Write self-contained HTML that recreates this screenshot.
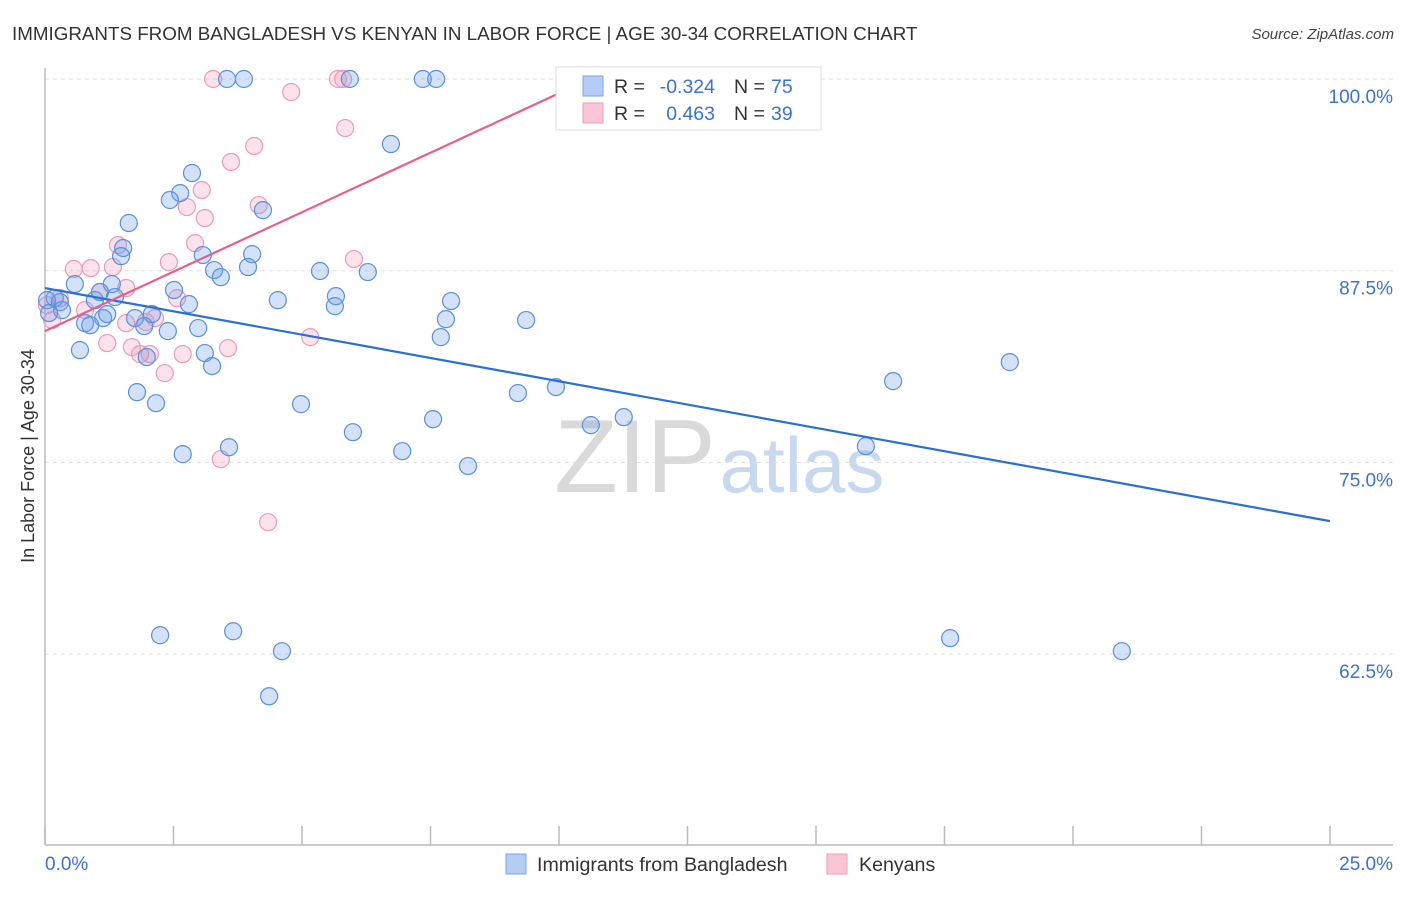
<!DOCTYPE html>
<html><head><meta charset="utf-8">
<style>
body{margin:0;background:#fff;font-family:"Liberation Sans",sans-serif;}
svg text{font-family:"Liberation Sans",sans-serif;}
</style></head>
<body>
<svg id="chart" width="1406" height="892" viewBox="0 0 1406 892" xmlns="http://www.w3.org/2000/svg">
<text x="12" y="40" font-size="18.8" fill="#333">IMMIGRANTS FROM BANGLADESH VS KENYAN IN LABOR FORCE | AGE 30-34 CORRELATION CHART</text>
<text x="1394" y="39" font-size="15" font-style="italic" fill="#444" text-anchor="end">Source: ZipAtlas.com</text>
<g>
<text x="635" y="492" font-size="104" font-family="Liberation Serif" fill="#d9d9d9" text-anchor="middle">ZIP</text>
<text x="802" y="492" font-size="78" fill="#c8d8ef" text-anchor="middle">atlas</text>
</g>
<g id="grid"></g>
<g id="axes"></g>
<g id="marks"></g>
<g id="lines"></g>
<text transform="translate(34,456) rotate(-90)" font-size="18" fill="#333" text-anchor="middle">In Labor Force | Age 30-34</text>
<g>
<rect x="556" y="67" width="265" height="63" fill="#fff" stroke="#ddd"/>
<rect x="583" y="76" width="20" height="20" fill="#b5cdf4" stroke="#7aa5e6"/>
<rect x="583" y="103" width="20" height="20" fill="#fac6d6" stroke="#f19cb7"/>
<text x="614" y="93" font-size="19.5" fill="#333">R =</text>
<text x="715" y="93" font-size="19.5" fill="#3b73d1" text-anchor="end">-0.324</text>
<text x="734" y="93" font-size="19.5" fill="#333">N =</text>
<text x="771" y="93" font-size="19.5" fill="#3b73d1">75</text>
<text x="614" y="120" font-size="19.5" fill="#333">R =</text>
<text x="715" y="120" font-size="19.5" fill="#3b73d1" text-anchor="end">0.463</text>
<text x="734" y="120" font-size="19.5" fill="#333">N =</text>
<text x="771" y="120" font-size="19.5" fill="#3b73d1">39</text>
</g>
<g>
<rect x="506" y="854" width="20" height="20" fill="#b5cdf4" stroke="#7aa5e6"/>
<text x="537" y="871" font-size="19.6" fill="#333">Immigrants from Bangladesh</text>
<rect x="827" y="854" width="20" height="20" fill="#fac6d6" stroke="#f19cb7"/>
<text x="859" y="871" font-size="19.6" fill="#333">Kenyans</text>
</g>
</svg>
<script>
const blueX=[3.54,3.87,5.93,7.35,7.61,6.73,2.86,2.63,2.43,4.24,1.63,1.52,1.48,3.07,4.03,3.29,3.42,3.95,5.35,6.28,0.58,1.30,0.19,0.04,0.29,0.97,1.36,2.80,4.53,5.66,5.64,7.90,2.51,1.07,0.33,0.08,0.78,0.88,1.13,1.21,1.75,2.08,1.93,2.39,2.98,7.80,9.36,7.70,0.68,1.98,3.11,3.25,1.79,2.16,4.98,9.20,9.94,16.50,18.77,7.55,5.99,10.62,11.26,3.58,2.68,6.95,8.23,15.97,2.24,3.66,4.61,17.61,20.95,4.36];
const blueY=[100,100,100,100,100,95.76,93.87,92.56,92.11,91.45,90.61,88.98,88.45,88.52,88.58,87.54,87.08,87.74,87.48,87.41,86.63,86.63,85.71,85.58,85.45,85.58,85.78,85.32,85.58,85.84,85.19,85.52,86.24,86.11,84.93,84.74,84.08,83.95,84.41,84.67,84.41,84.67,83.89,83.56,83.76,84.34,84.28,83.17,82.32,81.87,82.13,81.28,79.58,78.86,78.80,79.52,79.91,80.30,81.54,77.82,76.97,77.43,77.95,75.99,75.54,75.73,74.76,76.06,63.73,63.99,62.69,63.54,62.69,59.75];
const pinkX=[3.27,5.70,5.80,10.29,4.79,5.84,4.07,3.62,3.05,4.16,2.76,3.11,2.92,1.42,2.41,0.56,0.89,1.32,1.58,1.07,0.29,2.57,0.04,0.78,0.14,1.58,1.96,2.14,1.21,1.69,1.85,2.04,2.68,3.56,2.33,5.16,6.01,3.42,4.34];
const pinkY=[100,100,100,100,99.15,96.80,95.63,94.59,92.76,91.78,91.65,90.93,89.30,89.17,88.06,87.61,87.67,87.74,86.37,86.11,85.71,85.71,85.25,84.93,84.28,84.08,84.15,84.41,82.78,82.52,82.06,82.06,82.06,82.45,80.82,83.17,88.26,75.21,71.10];
const blueTrend=[86.37,71.17];
const pinkTrend=[83.56,100];
const yTicks=[100,87.5,75,62.5];
const yTickLabels=["100.0%","87.5%","75.0%","62.5%"];
const xTicks=[0,2.5,5,7.5,10,12.5,15,17.5,20,22.5,25];

const NS="http://www.w3.org/2000/svg";
const sx=v=>45+v*(1330-45)/25;
const sy=v=>79+(100-v)*(191.7/12.5);
function mk(t,a,p){const e=document.createElementNS(NS,t);for(const k in a)e.setAttribute(k,a[k]);p.appendChild(e);return e;}
const grid=document.getElementById('grid'),axes=document.getElementById('axes'),marks=document.getElementById('marks'),lines=document.getElementById('lines');
yTicks.forEach((v,i)=>{
 const l=mk('line',{x1:45,x2:1393,y1:sy(v),y2:sy(v),stroke:'#ddd','stroke-dasharray':'4,4'},grid);
 
 
 const t=mk('text',{x:1393,y:sy(v)+24,'font-size':19,fill:'#3b73d1','text-anchor':'end'},axes);
 t.textContent=yTickLabels[i];
 
 
});
const ax=mk('line',{x1:45,x2:1393,y1:845,y2:845,stroke:'#bbb','stroke-width':1.5},axes);


const ay=mk('line',{x1:45,x2:45,y1:68,y2:845,stroke:'#bbb','stroke-width':1.5},axes);


xTicks.forEach(v=>{
 const t=mk('line',{x1:sx(v),x2:sx(v),y1:826,y2:845,stroke:'#bbb','stroke-width':1.5},axes);
 
 
});
const xl0=mk('text',{x:45,y:870,'font-size':19,fill:'#3b73d1'},axes);xl0.textContent='0.0%';


const xl1=mk('text',{x:1393,y:870,'font-size':19,fill:'#3b73d1','text-anchor':'end'},axes);xl1.textContent='25.0%';


pinkX.forEach((x,i)=>{
 const c=mk('circle',{cx:sx(x),cy:sy(pinkY[i]),r:8.5,fill:'rgba(244,160,188,0.3)',stroke:'#ee9ab6','stroke-width':1.2},marks);
 
 
});
blueX.forEach((x,i)=>{
 const c=mk('circle',{cx:sx(x),cy:sy(blueY[i]),r:8.5,fill:'rgba(110,160,232,0.3)',stroke:'#5a90dc','stroke-width':1.2},marks);
 
 
});
const bl=mk('line',{x1:sx(0),y1:sy(blueTrend[0]),x2:sx(25),y2:sy(blueTrend[1]),stroke:'#2a6fd6','stroke-width':2.2},lines);


const pl=mk('line',{x1:sx(0),y1:sy(pinkTrend[0]),x2:sx(10.6),y2:sy(pinkTrend[1]),stroke:'#e5608d','stroke-width':2.2},lines);


</script>
</body></html>
